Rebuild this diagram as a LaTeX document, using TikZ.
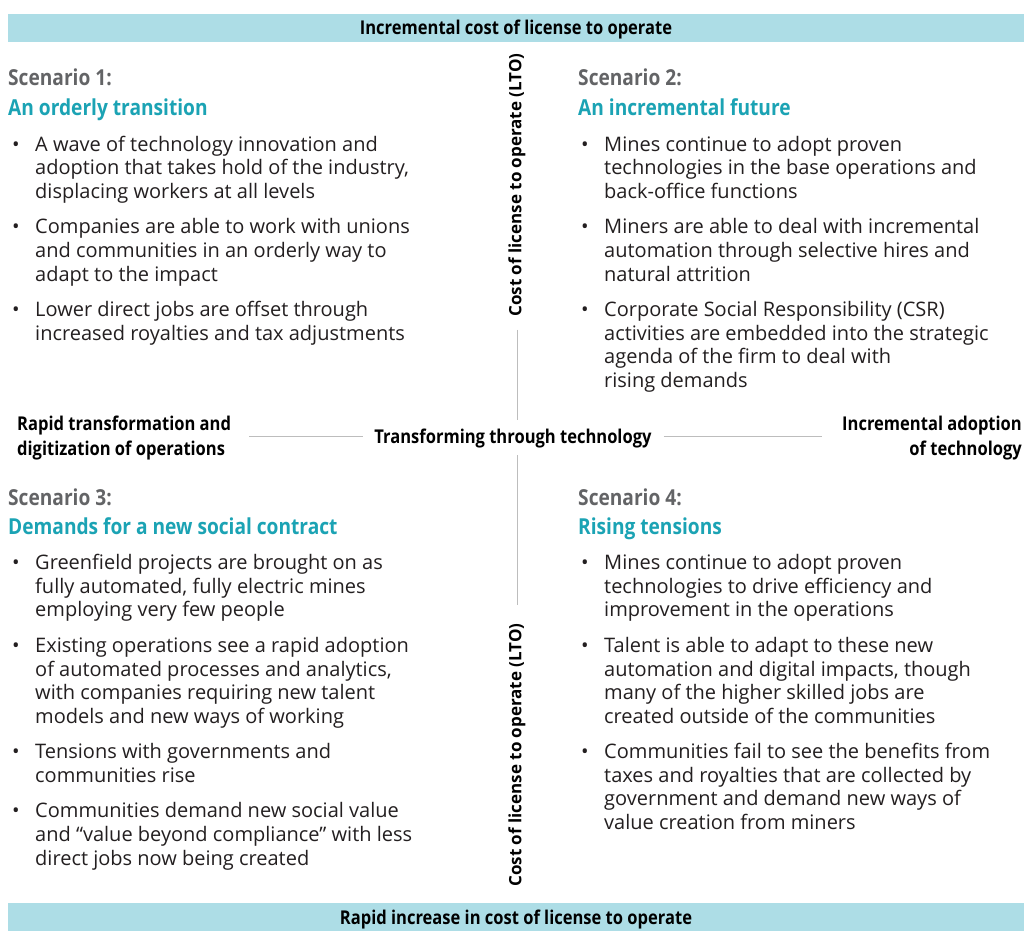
\documentclass[tikz,border=0pt]{standalone}
\usepackage{fontspec}
\setmainfont{Open Sans}
\newfontfamily\condfont[FakeStretch=0.87]{Open Sans}
\usetikzlibrary{positioning}

\definecolor{bandblue}{HTML}{ADDDE6}
\definecolor{headteal}{HTML}{1BA3B4}
\definecolor{headgrey}{HTML}{636466}
\definecolor{axisgrey}{HTML}{BDBDBD}
\definecolor{bodytext}{HTML}{231F20}

\begin{document}
\begin{tikzpicture}[
    x=1pt, y=-1pt,
    band/.style={fill=bandblue, minimum width=1016pt, minimum height=28pt, inner sep=0,
        text height=14pt, text depth=0pt,
        font=\condfont\bfseries\fontsize{19}{22}\selectfont},
    scen/.style={anchor=base west, inner sep=0, text=headgrey,
        font=\condfont\bfseries\fontsize{22}{26}\selectfont},
    title/.style={scen, text=headteal},
    item/.style={anchor=north west, inner sep=0, align=left, text=bodytext,
        font=\fontsize{20}{23.6}\selectfont, execute at end node=\strut},
    lto/.style={rotate=90, inner sep=0, font=\bfseries\fontsize{17}{20}\selectfont},
    axislabel/.style={inner sep=0, font=\condfont\bfseries\fontsize{19}{25}\selectfont},
    axis/.style={draw=axisgrey, line width=1pt}
]
    \path[use as bounding box, fill=white] (0,0) rectangle (1024,931);

    % Bands
    \node[band] (topband) at (516,28) {Incremental cost of license to operate};
    \node[band] (botband) at (516,917) {Rapid increase in cost of license to operate};

    % Axes
    \node[lto] (ltotop) at (517,185) {Cost of license to operate (LTO)};
    \node[lto] (ltobot) at (517,755) {Cost of license to operate (LTO)};
    \node[axislabel, text height=14pt, text depth=0pt] (hub) at (513,436) {Transforming through technology};
    \node[axislabel, anchor=west, align=left] (rapid) at (17,438) {Rapid transformation and\\digitization of operations};
    \node[axislabel, anchor=east, align=right] (incr) at (1022,438) {Incremental adoption\\of technology};

    \draw[axis, shorten <=13pt, shorten >=9pt] (ltotop.west) -- (ltotop.west |- hub.north);
    \draw[axis, shorten <=12pt, shorten >=18pt] (ltobot.east |- hub.south) -- (ltobot.east);
    \draw[axis, shorten <=18pt, shorten >=11pt] (rapid.east |- hub) -- (hub.west);
    \draw[axis, shorten <=12pt, shorten >=20pt] (hub.east) -- (incr.west |- hub);

    % Scenario 1
    \node[scen] (sc1) at (8,86) {Scenario 1:};
    \node[title] (sc1t) at (8,115) {An orderly transition};
    \node[item] (s1a) at (35,134.5) {\strut A wave of technology innovation and\\adoption that takes hold of the industry,\\displacing workers at all levels};
    \node[item, below right=11.5pt and 0pt of s1a.south west] (s1b) {\strut Companies are able to work with unions\\and communities in an orderly way to\\adapt to the impact};
    \node[item, below right=11.5pt and 0pt of s1b.south west] (s1c) {\strut Lower direct jobs are offset through\\increased royalties and tax adjustments};

    % Scenario 2
    \node[scen] (sc2) at (578,86) {Scenario 2:};
    \node[title] (sc2t) at (578,115) {An incremental future};
    \node[item] (s2a) at (604,134.5) {\strut Mines continue to adopt proven\\technologies in the base operations and\\back-office functions};
    \node[item, below right=11.5pt and 0pt of s2a.south west] (s2b) {\strut Miners are able to deal with incremental\\automation through selective hires and\\natural attrition};
    \node[item, below right=11.5pt and 0pt of s2b.south west] (s2c) {\strut Corporate Social Responsibility (CSR)\\activities are embedded into the strategic\\agenda of the firm to deal with\\rising demands};

    % Scenario 3
    \node[scen] (sc3) at (8,505) {Scenario 3:};
    \node[title] (sc3t) at (8,534) {Demands for a new social contract};
    \node[item] (s3a) at (35,553) {\strut Greenfield projects are brought on as\\fully automated, fully electric mines\\employing very few people};
    \node[item, below right=11.5pt and 0pt of s3a.south west] (s3b) {\strut Existing operations see a rapid adoption\\of automated processes and analytics,\\with companies requiring new talent\\models and new ways of working};
    \node[item, below right=11.5pt and 0pt of s3b.south west] (s3c) {\strut Tensions with governments and\\communities rise};
    \node[item, below right=11.5pt and 0pt of s3c.south west] (s3d) {\strut Communities demand new social value\\and “value beyond compliance” with less\\direct jobs now being created};

    % Scenario 4
    \node[scen] (sc4) at (578,505) {Scenario 4:};
    \node[title] (sc4t) at (578,534) {Rising tensions};
    \node[item] (s4a) at (604,553) {\strut Mines continue to adopt proven\\technologies to drive efficiency and\\improvement in the operations};
    \node[item, below right=11.5pt and 0pt of s4a.south west] (s4b) {\strut Talent is able to adapt to these new\\automation and digital impacts, though\\many of the higher skilled jobs are\\created outside of the communities};
    \node[item, below right=11.5pt and 0pt of s4b.south west] (s4c) {\strut Communities fail to see the benefits from\\taxes and royalties that are collected by\\government and demand new ways of\\value creation from miners};

    % Bullets
    \foreach \n in {s1a,s1b,s1c,s2a,s2b,s2c,s3a,s3b,s3c,s3d,s4a,s4b,s4c}
        \node[item] (\n-dot) at ([xshift=-23pt]\n.north west) {\strut\textbullet};

\end{tikzpicture}
\end{document}
